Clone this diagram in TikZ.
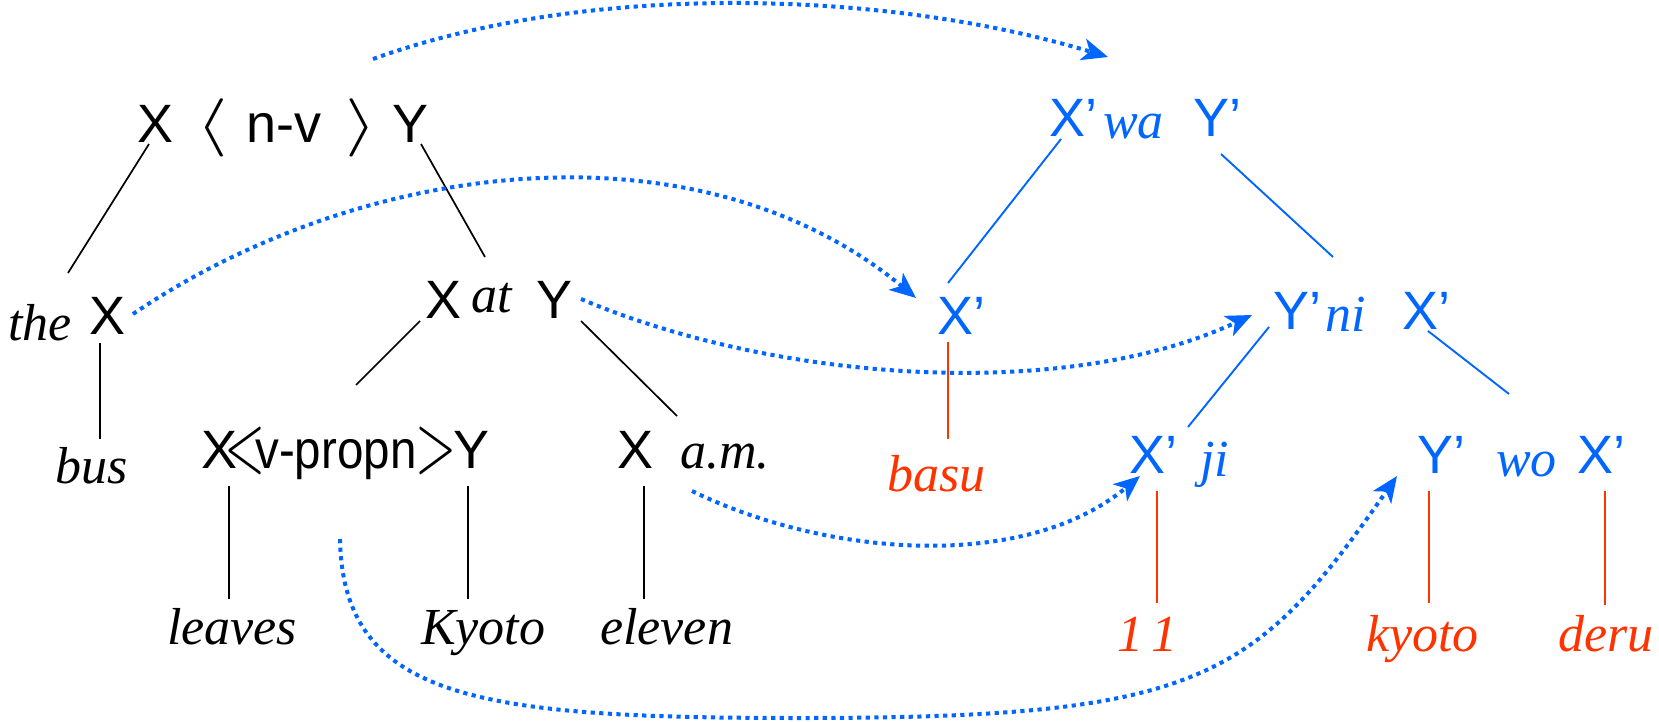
\RequirePackage{fix-cm}
\documentclass[tikz,border=0pt]{standalone}
\usepackage{fontspec}
\setmainfont{Liberation Serif}
\setsansfont{Liberation Sans}
\usepackage{graphicx}
\usetikzlibrary{arrows.meta}
\definecolor{jblue}{RGB}{0,102,255}
\definecolor{jred}{RGB}{255,51,0}
\newcommand{\sfz}{\sffamily\fontsize{54}{60}\selectfont}
\newcommand{\itz}{\rmfamily\itshape\fontsize{52}{60}\selectfont}
\newcommand{\tallless}{\raisebox{-4.6pt}{\scalebox{1}[1.6]{$<$}}}
\newcommand{\tallgreater}{\raisebox{-4.6pt}{\scalebox{1}[1.6]{$>$}}}
\begin{document}
\begin{tikzpicture}[x=1pt,y=-1pt,
  sf/.style={inner sep=0pt,anchor=base west,font=\sfz},
  it/.style={inner sep=0pt,anchor=base west,font=\itz},
  tree/.style={line width=1.7pt},
  btree/.style={jblue,line width=1.9pt},
  rtree/.style={jred,line width=1.9pt},
  dotarrow/.style={jblue,line width=4pt,dash pattern=on 4.2pt off 4.4pt,
     -{Stealth[length=26pt,width=22pt,inset=7pt]}}]
\useasboundingbox (0,0) rectangle (1659,722);

% ---- English tree (black)
\node[sf] (tX) at (137,143) {X};
\node[sf] (tL) at (196,143) {\scalebox{1.5}[1.08]{$\langle$}};
\node[sf] (tNV) at (246,143) {n-v};
\node[sf] (tR) at (345,143) {\scalebox{1.5}[1.08]{$\rangle$}};
\node[sf] (tY) at (392,143) {Y};

\node[it] (the) at (8,340) {the};
\node[sf] (theX) at (89,334) {X};
\node[sf] (atX) at (425,318) {X};
\node[it] (at) at (471,312) {at};
\node[sf] (atY) at (536,318) {Y};

\node[it] (bus) at (55,483) {bus};
\node[sf] (vNode) at (201,468)
  {X\kern-13pt\tallless\kern-10pt\scalebox{0.88}[1]{v-propn}\kern-1pt\tallgreater\kern-3pt Y};
\node[sf] (amX) at (617,468) {X};
\node[it] (am) at (680,468) {a.m.};

\node[it] (leaves) at (167,644) {leaves};
\node[it] (kyotoE) at (421,644) {Kyoto};
\node[it] (eleven) at (600,644) {eleven};

% ---- Japanese tree (blue)
\node[sf,jblue] (waX) at (1049,137) {X’};
\node[it,jblue] (wa) at (1103,139) {wa};
\node[sf,jblue] (waY) at (1193,137) {Y’};
\node[sf,jblue] (basX) at (937,334) {X’};
\node[sf,jblue] (niY) at (1273,329) {Y’};
\node[it,jblue] (ni) at (1325,331) {ni};
\node[sf,jblue] (niX) at (1402,329) {X’};
\node[sf,jblue] (jiX) at (1129,473) {X’};
\node[it,jblue] (ji) at (1200,476) {ji};
\node[sf,jblue] (woY) at (1417,473) {Y’};
\node[it,jblue] (wo) at (1496,476) {wo};
\node[sf,jblue] (woX) at (1577,473) {X’};

% ---- Japanese words (red)
\node[it,jred] (basu) at (887,491) {basu};
\node[it,jred] (n11) at (1117,651) {1\kern8pt1};
\node[it,jred] (kyotoJ) at (1366,651) {kyoto};
\node[it,jred] (deru) at (1558,651) {deru};

% ---- line end points
\coordinate (a1) at (149,144); \coordinate (a2) at (68,273);
\coordinate (b1) at (421,144); \coordinate (b2) at (485,257);
\coordinate (c1) at (100,343); \coordinate (c2) at (100,439);
\coordinate (d1) at (420,321); \coordinate (d2) at (356,385);
\coordinate (e1) at (581,321); \coordinate (e2) at (677,416);
\coordinate (f1) at (229,486); \coordinate (f2) at (229,599);
\coordinate (g1) at (468,486); \coordinate (g2) at (468,599);
\coordinate (h1) at (644,486); \coordinate (h2) at (644,599);

\coordinate (i1) at (1061,139); \coordinate (i2) at (948,283);
\coordinate (j1) at (1221,154); \coordinate (j2) at (1333,257);
\coordinate (k1) at (1269,327); \coordinate (k2) at (1188,427);
\coordinate (m1) at (1428,331); \coordinate (m2) at (1509,394);

\coordinate (p1) at (948,342); \coordinate (p2) at (948,439);
\coordinate (q1) at (1157,491); \coordinate (q2) at (1157,603);
\coordinate (r1) at (1429,491); \coordinate (r2) at (1429,603);
\coordinate (s1) at (1605,491); \coordinate (s2) at (1605,605);

\draw[tree] (a1) -- (a2);
\draw[tree] (b1) -- (b2);
\draw[tree] (c1) -- (c2);
\draw[tree] (d1) -- (d2);
\draw[tree] (e1) -- (e2);
\draw[tree] (f1) -- (f2);
\draw[tree] (g1) -- (g2);
\draw[tree] (h1) -- (h2);

\draw[btree] (i1) -- (i2);
\draw[btree] (j1) -- (j2);
\draw[btree] (k1) -- (k2);
\draw[btree] (m1) -- (m2);

\draw[rtree] (p1) -- (p2);
\draw[rtree] (q1) -- (q2);
\draw[rtree] (r1) -- (r2);
\draw[rtree] (s1) -- (s2);

% ---- dotted correspondence arrows
\coordinate (A1s) at (373,59);   \coordinate (A1e) at (1108,57);
\coordinate (A2s) at (133,314);  \coordinate (A2e) at (916,298);
\coordinate (A3s) at (581,299);  \coordinate (A3e) at (1252,315);
\coordinate (A4s) at (692,491);  \coordinate (A4e) at (1140,476);
\coordinate (A5s) at (340,539);  \coordinate (A5m) at (800,718); \coordinate (A5e) at (1397,476);

\draw[dotarrow] (A1s) .. controls (589,-19) and (887,-10) .. (A1e);
\draw[dotarrow] (A2s) .. controls (365,157) and (700,119) .. (A2e);
\draw[dotarrow] (A3s) .. controls (774,381) and (1063,403) .. (A3e);
\draw[dotarrow] (A4s) .. controls (827,557) and (1025,572) .. (A4e);
\draw[dotarrow] (A5s) .. controls (343,700) and (480,718) .. (A5m)
                     .. controls (1200,718) and (1254,681) .. (A5e);
\end{tikzpicture}
\end{document}
